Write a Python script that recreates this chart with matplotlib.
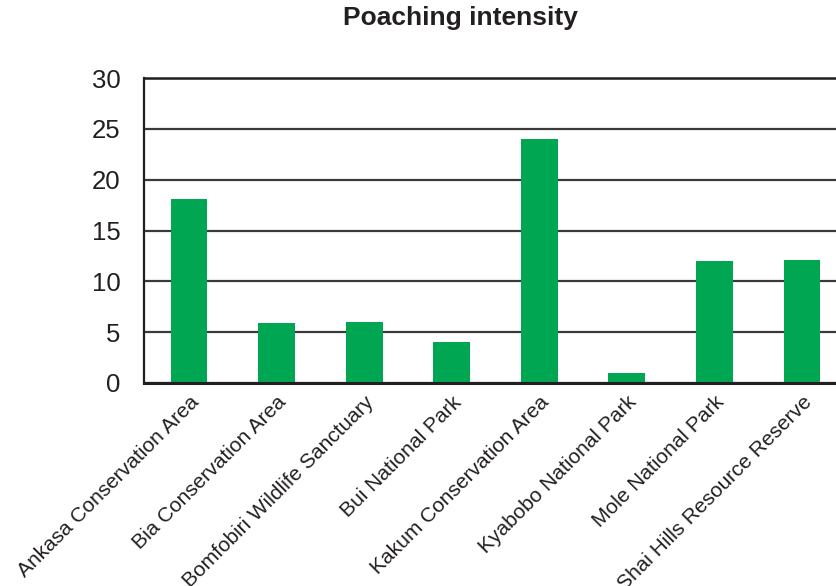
import matplotlib
matplotlib.use("Agg")
import matplotlib.pyplot as plt
import numpy as np

plt.rcParams['font.family'] = ['Liberation Sans', 'DejaVu Sans']

# data
areas = ["Ankasa Conservation Area", "Bia Conservation Area",
         "Bomfobiri Wildlife Sanctuary", "Bui National Park",
         "Kakum Conservation Area", "Kyabobo National Park",
         "Mole National Park", "Shai Hills Resource Reserve"]
poaching = [18.1, 5.9, 6.0, 4.0, 24.0, 1.0, 12.0, 12.1]
y_ticks = [0, 5, 10, 15, 20, 25, 30]

green = "#00A651"

fig = plt.figure(figsize=(8.37, 5.86), dpi=100)
ax = fig.add_axes([144 / 837, 1 - 383 / 586, 1 - 144 / 837, (383 - 78) / 586])

x = np.arange(len(areas))
ax.bar(x, poaching, width=0.42, color=green, zorder=3)

ax.set_xlim(-0.515, 7.4)
ax.set_ylim(0, 30)
ax.set_yticks(y_ticks)
ax.set_yticklabels([str(t) for t in y_ticks], fontsize=18.5, color="#231f20")
ax.tick_params(axis='y', length=0, pad=17)
ax.tick_params(axis='x', length=0, pad=7)
ax.set_xticks(x)
ax.set_xticklabels(areas, rotation=45, ha='right', va='top',
                   rotation_mode='anchor', fontsize=15, color="#231f20")

ax.yaxis.grid(True, color="#3a3a3a", linewidth=1.6, zorder=1)
ax.set_axisbelow(True)
ax.spines['right'].set_visible(False)
ax.spines['top'].set_color("#231f20")
ax.spines['top'].set_linewidth(1.8)
ax.spines['left'].set_color("#231f20")
ax.spines['left'].set_linewidth(1.6)
ax.spines['bottom'].set_color("#231f20")
ax.spines['bottom'].set_linewidth(2.2)
ax.spines['bottom'].set_zorder(4)

fig.text(460 / 837, 1 - 18 / 586, "Poaching intensity", ha='center', va='center',
         fontsize=19, fontweight='bold', color="#231f20")

fig.savefig("out.png", dpi=100)
